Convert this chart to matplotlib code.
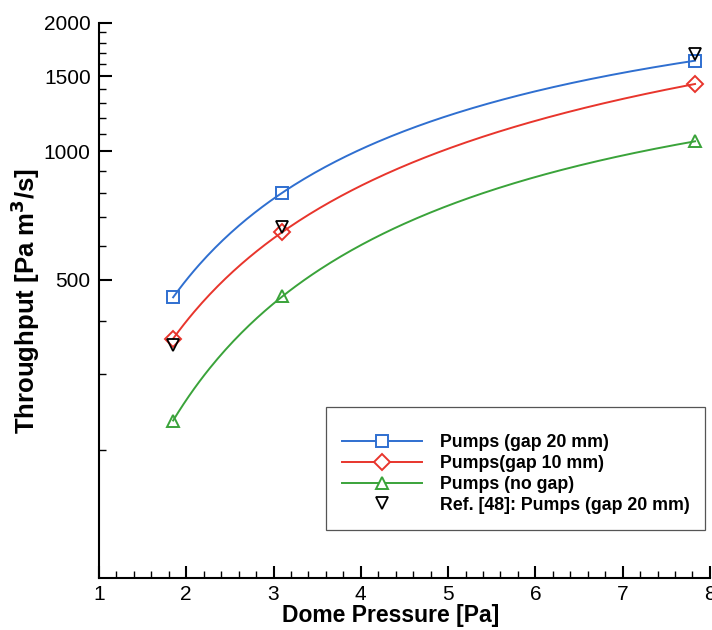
import numpy as np
import matplotlib
matplotlib.use("Agg")
import matplotlib.pyplot as plt
from matplotlib.ticker import FixedLocator, NullFormatter, MultipleLocator

plt.rcParams["font.family"] = ["Liberation Sans", "DejaVu Sans"]

# dome pressure [Pa] and throughput [Pa m^3/s]
pressure = [1.85, 3.1, 7.83]
gap20 = [455, 800, 1632]
gap10 = [364, 647, 1439]
no_gap = [234, 457, 1056]
ref48 = [352, 665, 1694]

series = [
    ("Pumps (gap 20 mm)", gap20, "#2f6fd0", "s"),
    ("Pumps(gap 10 mm)", gap10, "#e8352c", "D"),
    ("Pumps (no gap)", no_gap, "#3aa33a", "^"),
]


def smooth(x, y, n=200):
    # quadratic through the points in log-log space
    lx, ly = np.log10(x), np.log10(y)
    c = np.polyfit(lx, ly, 2)
    xs = np.linspace(min(x), max(x), n)
    return xs, 10 ** np.polyval(c, np.log10(xs))


fig = plt.figure(figsize=(7.12, 6.3), dpi=100)
ax = fig.add_axes([0.139, 0.0825, 0.858, 0.881])

for label, vals, color, mk in series:
    xs, ys = smooth(pressure, vals)
    ax.plot(xs, ys, color=color, lw=1.4)
    ms = 8 if mk == "D" else 9
    ax.plot(pressure, vals, linestyle="none", marker=mk, ms=ms, mfc="none",
            mec=color, mew=1.4)
    ax.plot([], [], color=color, lw=1.4, marker=mk, ms=ms, mfc="white",
            mec=color, mew=1.4, label=label)

ax.plot(pressure, ref48, linestyle="none", marker="v", ms=9, mfc="none",
        mec="black", mew=1.3, label="Ref. [48]: Pumps (gap 20 mm)")

ax.set_yscale("log")
ax.set_xlim(1, 8)
ax.set_ylim(100, 2000)

ax.yaxis.set_major_locator(FixedLocator([500, 1000, 1500, 2000]))
ax.yaxis.set_major_formatter(plt.FuncFormatter(lambda v, p: f"{int(v)}"))
ax.yaxis.set_minor_locator(FixedLocator([200, 300, 400, 600, 700, 800, 900,
                                         1100, 1200, 1300, 1400, 1600, 1700,
                                         1800, 1900]))
ax.yaxis.set_minor_formatter(NullFormatter())
ax.xaxis.set_major_locator(MultipleLocator(1))
ax.xaxis.set_minor_locator(MultipleLocator(0.2))

for s in ["top", "right"]:
    ax.spines[s].set_visible(False)
for s in ["left", "bottom"]:
    ax.spines[s].set_linewidth(1.5)

ax.tick_params(which="major", direction="in", length=9, width=1.5,
               labelsize=15)
ax.tick_params(which="minor", direction="in", length=5, width=1.0)
ax.tick_params(axis="x", pad=5)
ax.tick_params(axis="y", pad=6)

ax.set_xlabel("Dome Pressure [Pa]", fontsize=16.5, fontweight="bold",
              labelpad=0)
ax.xaxis.label.set_x(0.478)
ax.set_ylabel("Throughput [Pa m$^\\mathbf{3}$/s]", fontsize=18.5,
              fontweight="bold", labelpad=1)

leg = ax.legend(loc="upper left", bbox_to_anchor=(0.3715, 0.308),
                borderaxespad=0, prop={"weight": "bold", "size": 12.8},
                title=" ", title_fontsize=6,
                handlelength=4.5, labelspacing=0.22, borderpad=0.9,
                handletextpad=1.0, fancybox=False, framealpha=1)
leg.get_frame().set_edgecolor("#555555")
leg.get_frame().set_linewidth(0.9)

fig.savefig("out.png", dpi=100)
plt.close(fig)
